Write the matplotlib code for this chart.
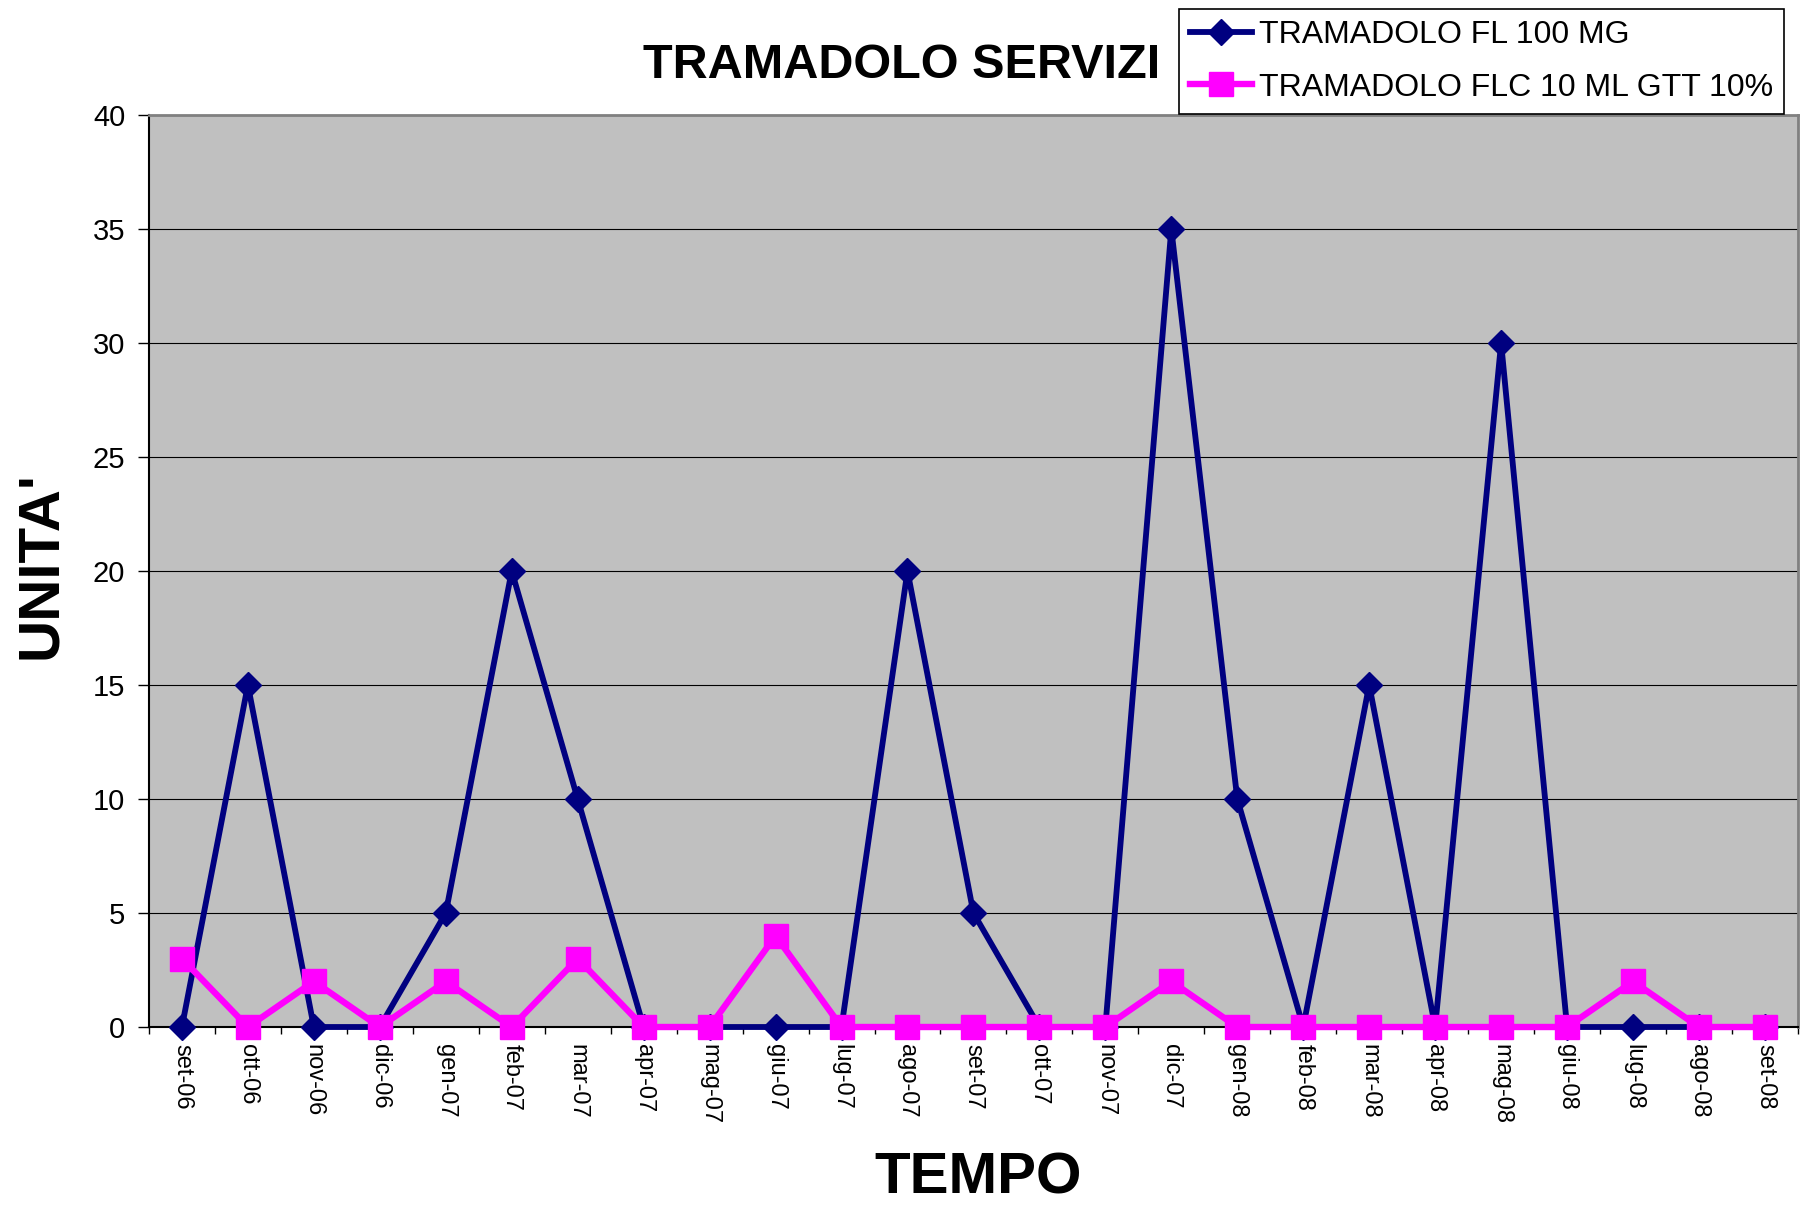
import numpy as np
import matplotlib
matplotlib.use('Agg')
import matplotlib.pyplot as plt

plt.rcParams['font.family'] = ['Liberation Sans', 'DejaVu Sans']

mesi = ['set-06', 'ott-06', 'nov-06', 'dic-06', 'gen-07', 'feb-07', 'mar-07',
        'apr-07', 'mag-07', 'giu-07', 'lug-07', 'ago-07', 'set-07', 'ott-07',
        'nov-07', 'dic-07', 'gen-08', 'feb-08', 'mar-08', 'apr-08', 'mag-08',
        'giu-08', 'lug-08', 'ago-08', 'set-08']
fl_100mg = [0, 15, 0, 0, 5, 20, 10, 0, 0, 0, 0, 20, 5, 0, 0, 35, 10, 0, 15, 0, 30, 0, 0, 0, 0]
flc_gtt = [3, 0, 2, 0, 2, 0, 3, 0, 0, 4, 0, 0, 0, 0, 0, 2, 0, 0, 0, 0, 0, 0, 2, 0, 0]

fig = plt.figure(figsize=(18.01, 12.19), dpi=100)
ax = fig.add_axes([0.0827, 0.1575, 0.9156, 0.7482])
ax.set_facecolor('#C0C0C0')

x = np.arange(len(mesi))
ax.plot(x, fl_100mg, color='#000080', lw=4.2, marker='D', ms=13,
        mec='#000080', mfc='#000080', clip_on=False, zorder=3,
        label='TRAMADOLO FL 100 MG')
ax.plot(x, flc_gtt, color='#FF00FF', lw=4.6, marker='s', ms=17,
        mec='#FF00FF', mfc='#FF00FF', clip_on=False, zorder=4,
        label='TRAMADOLO FLC 10 ML GTT 10%')

ax.set_xlim(-0.5, len(mesi) - 0.5)
ax.set_ylim(0, 40)
ax.set_yticks(np.arange(0, 41, 5))
ax.yaxis.grid(True, color='black', lw=0.8)
ax.set_axisbelow(True)

ax.set_xticks(x)
ax.set_xticklabels(mesi, rotation=-90, fontsize=17, va='top', ha='center')
ax.set_xticks(np.arange(-0.5, len(mesi), 1), minor=True)
ax.tick_params(axis='x', which='major', length=0, pad=12)
ax.tick_params(axis='x', which='minor', length=5, width=1, direction='out')
ax.tick_params(axis='y', length=8, width=1, direction='out', labelsize=21, pad=9)

for s in ['top', 'right']:
    ax.spines[s].set_color('#808080')
    ax.spines[s].set_linewidth(2)
for s in ['left', 'bottom']:
    ax.spines[s].set_color('black')
    ax.spines[s].set_linewidth(1.5)

fig.text(0.644, 0.936, 'TRAMADOLO SERVIZI', fontsize=35, fontweight='bold',
         ha='right', va='baseline')
fig.text(0.543, 0.0213, 'TEMPO', fontsize=42, fontweight='bold',
         ha='center', va='baseline')
fig.text(0.023, 0.536, "UNITA'", fontsize=42, fontweight='bold',
         rotation=90, ha='center', va='center')

leg = fig.legend(loc='upper right', bbox_to_anchor=(0.9906, 0.9926),
                 fontsize=23, frameon=True, fancybox=False, framealpha=1,
                 edgecolor='black', handlelength=1.95, handletextpad=0.2,
                 borderpad=0.35, labelspacing=0.7, borderaxespad=0)
leg.get_frame().set_linewidth(1.2)

fig.savefig('out.png', dpi=100)
